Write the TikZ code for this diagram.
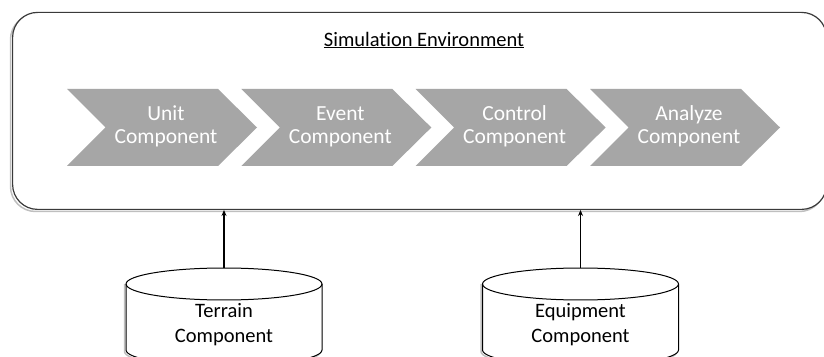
\documentclass[tikz,border=0pt]{standalone}
\usepackage{fontspec}
\setmainfont{Carlito}[Ligatures=NoCommon]
\usetikzlibrary{arrows.meta}
\definecolor{chevgray}{HTML}{A6A6A6}
\definecolor{framegray}{HTML}{3A3A3A}
\tikzset{
  chevtext/.style={text=white, font=\fontsize{21.5}{23}\selectfont, align=center, inner sep=0pt},
  dbtext/.style={font=\fontsize{20.5}{25}\selectfont, align=center, inner sep=0pt},
  feed/.style={draw=black, line width=1.2pt, -{Stealth[length=6pt,width=5pt]}},
  frame/.style={draw=framegray, line width=1.2pt, fill=white, rounded corners=25pt},
  shade/.style={draw=black!25, line width=1.5pt},
  drum/.style={draw=black, line width=1pt, fill=white},
}
\begin{document}
\begin{tikzpicture}[x=1pt,y=1pt]
\useasboundingbox (0,0) rectangle (824,356);
\clip (0,0) rectangle (824,356);

% environment frame with a light drop shadow
\draw[shade, rounded corners=25pt] (10.5,144.5) rectangle (824.5,341.5);
\node[frame, minimum width=814, minimum height=197, anchor=south west] (env) at (12,146) {};
\node[dbtext] (title) at (424,316) {\underline{Simulation Environment}};

% process chevrons
\foreach \L/\nm/\t in {67/unit/Unit, 241.3/event/Event, 415.6/control/Control, 590/analyze/Analyze}{
  \fill[chevgray] (\L,267) -- ++(151,0) -- ++(39,-38.5) -- ++(-39,-38.5) -- ++(-151,0) -- ++(38.5,38.5) -- cycle;
  \node[chevtext] (\nm) at (\L+99,229.5) {\t\\Component};
}

% data stores feeding the environment
\foreach \cx/\nm/\t in {224/terrain/Terrain, 580.5/equip/Equipment}{
  \draw[shade] (\cx-99.5,72) -- (\cx-99.5,4.5) arc[start angle=180, end angle=360, x radius=98, y radius=16];
  \draw[drum] (\cx-98,72) -- (\cx-98,6) arc[start angle=180, end angle=360, x radius=98, y radius=16]
    -- (\cx+98,72) arc[start angle=0, end angle=180, x radius=98, y radius=16] -- cycle;
  \draw[line width=1pt] (\cx+98,72) arc[start angle=0, end angle=-180, x radius=98, y radius=16];
  \coordinate (\nm top) at (\cx,88);
  \node[dbtext] (\nm) at (\cx,31.5) {\t\\Component};
  \draw[feed] (\nm top) -- (\nm top |- env.south);
}
\end{tikzpicture}
\end{document}
